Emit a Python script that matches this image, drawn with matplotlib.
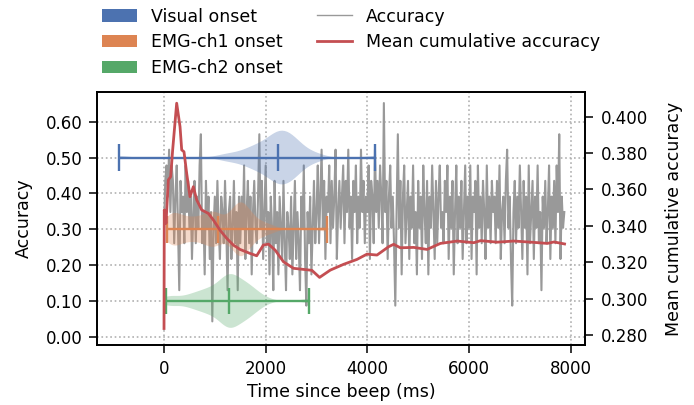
import matplotlib
matplotlib.use("Agg")
import matplotlib.pyplot as plt
import numpy as np
from matplotlib.patches import Patch
from matplotlib.lines import Line2D

plt.rcParams["font.family"] = "DejaVu Sans"

# onset times (ms) per modality
visual_onsets = [-890, 1150, 1320, 1460, 1580, 1680, 1770, 1850, 1731, 1865,
                 1938, 1991, 2033, 2070, 2103, 2134, 2162, 2187, 2212, 2238,
                 2246,
                 2285, 2308, 2330, 2352, 2375, 2400, 2422, 2448, 2473, 2498,
                 2526, 2557, 2590, 2627, 2669, 2722, 2795, 2929, 3050, 4160]
emg1_onsets = [60, 95, 130, 165, 200, 240, 300, 370, 440, 510,
               580, 650, 720, 790, 850, 900, 950, 990, 1020, 1045,
               1056,
               1200, 1300, 1360, 1400, 1430, 1455, 1475, 1495, 1515, 1535,
               1560, 1585, 1615, 1650, 1700, 1770, 1860, 1970, 2120, 3213]
emg2_onsets = [40, 120, 250, 450, 560, 600, 720, 820, 880, 782,
               917, 987, 1040, 1082, 1118, 1152, 1183, 1211, 1236, 1261,
               1270,
               1284, 1306, 1328, 1348, 1368, 1390, 1432, 1452, 1496, 1519,
               1569, 1597, 1628, 1662, 1698, 1740, 1793, 1863, 1998, 2850]

onset_labels = ["Visual onset", "EMG-ch1 onset", "EMG-ch2 onset"]
onset_data = [visual_onsets, emg1_onsets, emg2_onsets]
onset_pos = [0.5, 0.3, 0.1]
onset_bw = [0.25, 0.22, 0.3]
colors = ["#4C72B0", "#DD8452", "#55A868"]

# accuracy every 25 ms from 0 to 7875 ms
acc_step = 25
accuracy = [
    0.304, 0.435, 0.478, 0.391, 0.522, 0.348, 0.478, 0.435, 0.261, 0.391, 0.478, 0.304, 0.130, 0.435, 0.348, 0.391, 0.261, 0.478, 0.348, 0.435,
    0.304, 0.391, 0.217, 0.348, 0.435, 0.261, 0.391, 0.304, 0.478, 0.565, 0.261, 0.348, 0.174, 0.435, 0.304, 0.391, 0.217, 0.348, 0.043, 0.304,
    0.391, 0.261, 0.435, 0.304, 0.217, 0.391, 0.348, 0.261, 0.435, 0.304, 0.130, 0.348, 0.391, 0.217, 0.304, 0.435, 0.261, 0.348, 0.130, 0.391,
    0.261, 0.391, 0.304, 0.478, 0.217, 0.348, 0.435, 0.261, 0.391, 0.174, 0.348, 0.435, 0.304, 0.261, 0.391, 0.565, 0.304, 0.435, 0.217, 0.348,
    0.478, 0.261, 0.348, 0.174, 0.391, 0.304, 0.130, 0.435, 0.261, 0.348, 0.174, 0.391, 0.304, 0.217, 0.435, 0.261, 0.130, 0.348, 0.304, 0.217,
    0.391, 0.174, 0.304, 0.435, 0.217, 0.348, 0.261, 0.130, 0.391, 0.304, 0.478, 0.217, 0.087, 0.348, 0.261, 0.391, 0.174, 0.304, 0.435, 0.261,
    0.348, 0.478, 0.261, 0.391, 0.522, 0.304, 0.435, 0.217, 0.391, 0.348, 0.478, 0.261, 0.435, 0.304, 0.391, 0.522, 0.217, 0.348, 0.435, 0.304,
    0.391, 0.478, 0.261, 0.435, 0.348, 0.522, 0.304, 0.391, 0.217, 0.435, 0.348, 0.478, 0.261, 0.391, 0.304, 0.522, 0.348, 0.435, 0.261, 0.391,
    0.348, 0.478, 0.217, 0.435, 0.391, 0.261, 0.522, 0.348, 0.435, 0.304, 0.478, 0.391, 0.261, 0.652, 0.348, 0.435, 0.217, 0.391, 0.478, 0.304,
    0.391, 0.261, 0.087, 0.348, 0.565, 0.304, 0.435, 0.174, 0.391, 0.478, 0.261, 0.348, 0.435, 0.217, 0.391, 0.304, 0.478, 0.261, 0.348, 0.174,
    0.435, 0.304, 0.391, 0.217, 0.478, 0.348, 0.261, 0.435, 0.174, 0.391, 0.304, 0.478, 0.348, 0.217, 0.435, 0.261, 0.391, 0.478, 0.304, 0.348,
    0.261, 0.435, 0.348, 0.478, 0.217, 0.391, 0.304, 0.435, 0.174, 0.348, 0.478, 0.261, 0.391, 0.304, 0.435, 0.217, 0.348, 0.478, 0.261, 0.391,
    0.304, 0.478, 0.217, 0.391, 0.348, 0.435, 0.174, 0.478, 0.304, 0.391, 0.261, 0.435, 0.348, 0.217, 0.478, 0.304, 0.391, 0.261, 0.435, 0.348,
    0.391, 0.261, 0.435, 0.304, 0.478, 0.217, 0.348, 0.391, 0.261, 0.435, 0.522, 0.304, 0.391, 0.217, 0.087, 0.348, 0.435, 0.261, 0.391, 0.304,
    0.478, 0.348, 0.217, 0.435, 0.304, 0.391, 0.174, 0.478, 0.261, 0.348, 0.435, 0.217, 0.391, 0.304, 0.478, 0.261, 0.348, 0.130, 0.391, 0.304,
    0.435, 0.261, 0.348, 0.478, 0.217, 0.391, 0.304, 0.435, 0.261, 0.478, 0.348, 0.565, 0.217, 0.391, 0.304, 0.348,
]

# mean cumulative accuracy, read at irregular times
cum_time = [0, 5, 39, 85, 131, 170, 249, 315, 348, 393, 446, 511, 577, 643, 741, 872, 970,
            1101, 1233, 1363, 1495, 1692, 1823, 1954, 2056, 2187, 2350, 2548, 2745, 2909,
            3060, 3270, 3533, 3796, 3993, 4190, 4420, 4518, 4650, 4913, 5175, 5438, 5767,
            6095, 6227, 6555, 6883, 7212, 7540, 7672, 7880]
cum_acc = [0.2835, 0.3487, 0.3413, 0.3652, 0.3670, 0.3817, 0.4074, 0.3945, 0.3817, 0.3807,
           0.3688, 0.3560, 0.3615, 0.3542, 0.3487, 0.3468, 0.3432, 0.3376, 0.3331, 0.3294,
           0.3270, 0.3248, 0.3235, 0.3294, 0.3299, 0.3266, 0.3202, 0.3166, 0.3160, 0.3155,
           0.3116, 0.3156, 0.3188, 0.3215, 0.3244, 0.3239, 0.3285, 0.3298, 0.3279, 0.3281,
           0.3270, 0.3303, 0.3316, 0.3307, 0.3318, 0.3310, 0.3316, 0.3310, 0.3303, 0.3311,
           0.3300]

fig = plt.figure(figsize=(6.94, 4.05), dpi=100)
ax = fig.add_axes([0.1398, 0.148, 0.703, 0.625])

acc_time = np.arange(len(accuracy)) * acc_step
ax.plot(acc_time, accuracy, color="#999999", lw=1.5, zorder=1)

for data, pos, bw, c in zip(onset_data, onset_pos, onset_bw, colors):
    parts = ax.violinplot([data], positions=[pos], widths=0.15,
                          orientation="horizontal", showmedians=True,
                          showextrema=True, bw_method=bw)
    for body in parts["bodies"]:
        body.set_facecolor(c)
        body.set_edgecolor("none")
        body.set_alpha(0.3)
    for key in ["cbars", "cmins", "cmaxes", "cmedians"]:
        parts[key].set_color(c)
        parts[key].set_linewidth(1.7)
        parts[key].set_zorder(3)

ax.set_xlim(-1318, 8280)
ax.set_ylim(-0.023, 0.683)
ax.set_xticks([0, 2000, 4000, 6000, 8000])
ax.set_yticks([0.0, 0.1, 0.2, 0.3, 0.4, 0.5, 0.6])
ax.yaxis.set_major_formatter(matplotlib.ticker.FormatStrFormatter("%.2f"))
ax.grid(True, ls=":", color="#b0b0b0", lw=1.2)
ax.set_axisbelow(True)
ax.set_xlabel("Time since beep (ms)", fontsize=12.5)
ax.set_ylabel("Accuracy", fontsize=12.5, labelpad=9)
ax.tick_params(labelsize=12, length=6, width=1.1, pad=4.5)

ax2 = ax.twinx()
ax2.plot(cum_time, cum_acc, color="#C44E52", lw=2)
ax2.set_ylim(0.2744, 0.4136)
ax2.set_yticks([0.28, 0.30, 0.32, 0.34, 0.36, 0.38, 0.40])
ax2.yaxis.set_major_formatter(matplotlib.ticker.FormatStrFormatter("%.3f"))
ax2.set_ylabel("Mean cumulative accuracy", fontsize=12.5, labelpad=12)
ax2.tick_params(labelsize=12, length=6, width=1.1, pad=5.5)
for a in (ax, ax2):
    for s in a.spines.values():
        s.set_linewidth(1.25)

handles = [Patch(facecolor=c, label=l) for c, l in zip(colors, onset_labels)]
handles += [Line2D([], [], color="#999999", lw=1, label="Accuracy"),
            Line2D([], [], color="#C44E52", lw=2, label="Mean cumulative accuracy")]
fig.legend(handles=handles, loc="upper left", bbox_to_anchor=(0.125, 1.02), ncol=2,
           frameon=False, fontsize=12.5, columnspacing=2.0, labelspacing=0.45)

fig.savefig("out.png", dpi=100)
